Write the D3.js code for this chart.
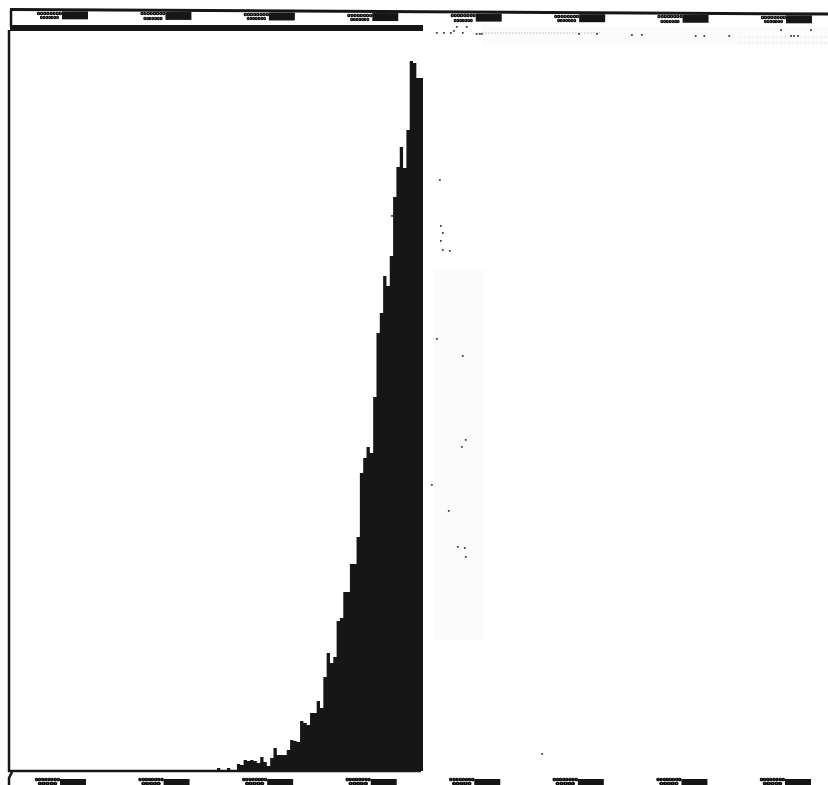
<!DOCTYPE html>
<html><head><meta charset="utf-8">
<script src="https://cdn.jsdelivr.net/npm/d3@7/dist/d3.min.js"></script>
<style>html,body{margin:0;padding:0;background:#fff;overflow:hidden}svg{display:block}</style>
</head><body><svg id="c" width="828" height="785"></svg>
<script>
// histogram heights, one per bin
const binValues = [3,0,0,3,0,0,7,6,11,10,11,10,8,14,9,5,13,23,16,16,16,21,31,30,29,50,48,46,58,58,70,63,94,118,108,114,150,153,179,179,207,207,234,298,313,324,318,374,438,458,495,485,515,574,604,624,603,641,710,708,693,693];
// isolated specks outside the histogram
const speckBin = [66.8,67.1,67.7,67.1,67.7,69.8,65.9,73.7,74.6,73.4,64.4,69.5,72.2,74.3,74.6,97.6,52.4];
const speckHeight = [592,546,539,531,522,521,433,416,332,325,287,261,225,224,215,18,556];
// specks along the top strip
const stripBin = [65.9,68.0,70.1,71,71.9,73.7,74.9,77.9,78.8,79.4,108.7,114.1,124.6,127.6,143.8,146.4,153.9,169.5,178.5,172.5,173.4,174.6];
const stripHeight = [739,739,739,741,745,739,745,738,738,738,738,738,737,737,736,736,736,742,742,736,736,736];
// tick labels are illegible in the reference; placeholder numerals
const topTicks1 = ["00000000","00000000","00000000","00000000","00000000","00000000","00000000","00000000"];
const topTicks2 = ["0000000","0000000","0000000","0000000","0000000","0000000","0000000","0000000"];
const bottomTicks1 = ["00000000","00000000","00000000","00000000","00000000","00000000","00000000","00000000"];
const bottomTicks2 = ["00000","00000","00000","00000","00000","00000","00000","00000"];
const tickValues = [0,1,2,3,4,5,6,7];

const svg = d3.select("#c");
const x = d3.scaleLinear().domain([0,62]).range([217,423]);
const y = d3.scaleLinear().domain([0,710]).range([771,61]);
const topX = d3.scaleLinear().domain([0,7]).range([62,786]);
const botX = d3.scaleLinear().domain([0,7]).range([60,785]);
const ink = "#191919";
const blur = svg.append("defs").append("filter").attr("id","b");
blur.append("feGaussianBlur").attr("stdDeviation",0.55);
const root = svg.append("g").attr("filter","url(#b)");

// faint panels
root.append("rect").attr("x",433).attr("y",270).attr("width",51).attr("height",370).attr("fill","#fbfbfb");
root.append("rect").attr("x",482).attr("y",26).attr("width",346).attr("height",19).attr("fill","#fbfbfb");
root.append("path").attr("d","M482,33H600").attr("stroke","#bbb").attr("stroke-width",1).attr("stroke-dasharray","1.5 1.5");
root.append("path").attr("d","M740,37H828M740,43H828").attr("stroke","#e4e4e4").attr("stroke-width",1).attr("stroke-dasharray","2 2");

// histogram
const area = d3.area().curve(d3.curveStepAfter).x((d,i)=>x(i)).y0(y(0)).y1(d=>y(d));
root.append("path").datum([...binValues,binValues[binValues.length-1]]).attr("d",area).attr("fill",ink);

// frame
root.append("path").attr("d","M9,30V771H421").attr("fill","none").attr("stroke",ink).attr("stroke-width",2.5);
root.append("path").attr("d","M10,28L423,28").attr("fill","none").attr("stroke",ink).attr("stroke-width",6);
root.append("path").attr("d","M10,9.5L828,14").attr("fill","none").attr("stroke",ink).attr("stroke-width",3);
root.append("path").attr("d","M11,10V26").attr("fill","none").attr("stroke",ink).attr("stroke-width",2.5);
root.append("path").attr("d","M12,772L9,778V785").attr("fill","none").attr("stroke",ink).attr("stroke-width",2.5);

// specks
root.selectAll(".s").data(speckBin).join("rect").attr("class","s")
 .attr("x",d=>x(d)).attr("y",(d,i)=>y(speckHeight[i])).attr("width",1.8).attr("height",1.8).attr("fill","#444");
root.selectAll(".t").data(stripBin).join("rect").attr("class","t")
 .attr("x",d=>x(d)).attr("y",(d,i)=>y(stripHeight[i])).attr("width",1.8).attr("height",1.8).attr("fill","#444");

function labels(g, a, b, y1, y2, fs){
  [[a,y1],[b,y2]].forEach(([arr,yy],k)=>{
    g.append("text").attr("x",k?-22:-25).attr("y",yy)
     .attr("textLength",k?19:25).attr("lengthAdjust","spacingAndGlyphs")
     .attr("font-family","Liberation Sans").attr("font-size",fs).attr("font-weight",700).attr("fill","#111")
     .attr("stroke","#111").attr("stroke-width",0.45)
     .text((d,i)=>arr[i]);
  });
}
// top tabs and labels
const gt = root.selectAll(".gt").data(tickValues).join("g").attr("class","gt")
 .attr("transform",d=>`translate(${topX(d)},${11+topX(d)*0.0055})`);
gt.append("rect").attr("width",26).attr("height",8).attr("fill",ink);
labels(gt, topTicks1, topTicks2, 3.5, 8, 3.8);
// bottom tabs and labels
const gb = root.selectAll(".gb").data(tickValues).join("g").attr("class","gb")
 .attr("transform",d=>`translate(${botX(d)},779)`);
gb.append("rect").attr("width",26).attr("height",6).attr("fill",ink);
labels(gb, bottomTicks1, bottomTicks2, 2.2, 5.6, 2.9);
</script></body></html>
